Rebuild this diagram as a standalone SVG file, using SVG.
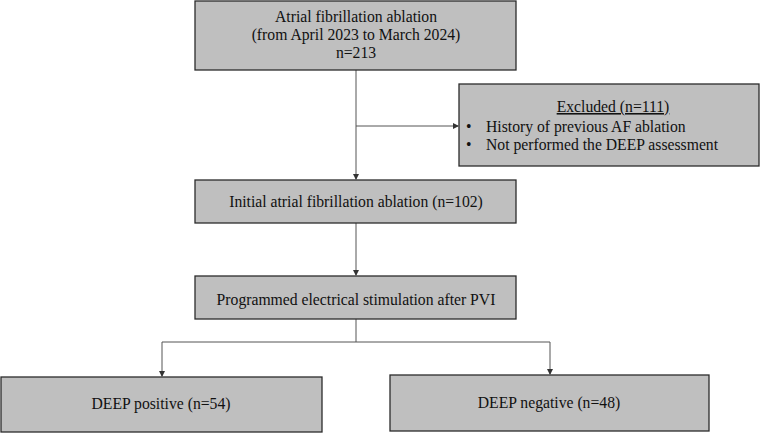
<svg xmlns="http://www.w3.org/2000/svg" width="767" height="434" viewBox="0 0 767 434">
<style>
.box{fill:#bfbfbf;stroke:#2b2b2b;stroke-width:1.3}
.t{font-family:"Liberation Serif","Times New Roman",serif;font-size:15.7px;fill:#111}
.c{text-anchor:middle}
.ln{stroke:#555;stroke-width:1;fill:none}
</style>
<defs>
<marker id="ah" markerWidth="6" markerHeight="6" refX="5" refY="3" orient="auto" markerUnits="userSpaceOnUse">
<path d="M0,0 L6,3 L0,6 Z" fill="#333"/>
</marker>
</defs>
<rect width="767" height="434" fill="#fff"/>
<g id="connectors">
<path class="ln" d="M356,70 V179" marker-end="url(#ah)"/>
<path class="ln" d="M356,126 H458" marker-end="url(#ah)"/>
<path class="ln" d="M356,223 V275" marker-end="url(#ah)"/>
<path class="ln" d="M356,319 V342 M162,342 H550"/>
<path class="ln" d="M162,342 V376" marker-end="url(#ah)"/>
<path class="ln" d="M550,342 V374" marker-end="url(#ah)"/>
</g>
<g id="n1">
<rect class="box" x="195" y="1" width="321" height="69"/>
<text class="t c" x="356" y="22">Atrial fibrillation ablation</text>
<text class="t c" x="356" y="40">(from April 2023 to March 2024)</text>
<text class="t c" x="356" y="58">n=213</text>
</g>
<g id="n2">
<rect class="box" x="459" y="84" width="300" height="82"/>
<text class="t c" x="613" y="112" text-decoration="underline">Excluded (n=111)</text>
<text class="t" x="466" y="132">•</text>
<text class="t" x="486" y="132">History of previous AF ablation</text>
<text class="t" x="466" y="150">•</text>
<text class="t" x="486" y="150">Not performed the DEEP assessment</text>
</g>
<g id="n3">
<rect class="box" x="195" y="180" width="321" height="43"/>
<text class="t c" x="356" y="207">Initial atrial fibrillation ablation (n=102)</text>
</g>
<g id="n4">
<rect class="box" x="195" y="276" width="321" height="43"/>
<text class="t c" x="356" y="305">Programmed electrical stimulation after PVI</text>
</g>
<g id="n5">
<rect class="box" x="1" y="377" width="321" height="55"/>
<text class="t c" x="161" y="409">DEEP positive (n=54)</text>
</g>
<g id="n6">
<rect class="box" x="390" y="375" width="319" height="56"/>
<text class="t c" x="549" y="408">DEEP negative (n=48)</text>
</g>
</svg>
